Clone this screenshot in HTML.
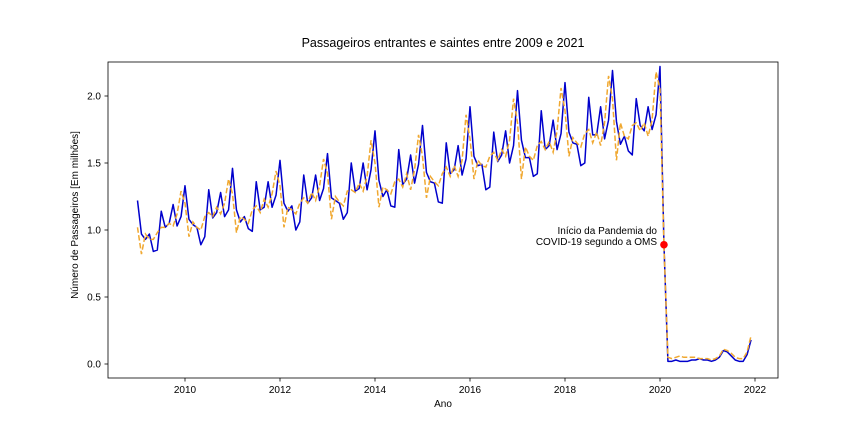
<!DOCTYPE html>
<html><head><meta charset="utf-8"><style>
body{margin:0;background:#fff}
svg text{font-family:"Liberation Sans","DejaVu Sans",sans-serif;fill:#000}
</style></head><body>
<svg id="chart" width="864" height="432">
<rect x="0" y="0" width="864" height="432" fill="#fff"/>
<text x="443" y="47" font-size="12.5" text-anchor="middle">Passageiros entrantes e saintes entre 2009 e 2021</text>
<text x="443" y="407" font-size="10" text-anchor="middle">Ano</text>
<text transform="translate(78,215) rotate(-90)" font-size="10" text-anchor="middle">Número de Passageiros [Em milhões]</text>
<g id="ticks"></g>
<g id="series"></g>
<rect x="108" y="62" width="670" height="316" fill="none" stroke="#000" stroke-width="0.8"/>
<text x="657" y="234" font-size="10" text-anchor="end">Início da Pandemia do</text>
<text x="657" y="245" font-size="10" text-anchor="end">COVID-19 segundo a OMS</text>
</svg>
<script>
const yTicks=[0.0,0.5,1.0,1.5,2.0];
const xTicks=[2010,2012,2014,2016,2018,2020,2022];
const startYear=2009;
const entrantes=[
1.22,0.97,0.93,0.97,0.84,0.85,1.14,1.02,1.05,1.19,1.03,1.10,
1.33,1.08,1.04,1.02,0.89,0.95,1.30,1.09,1.13,1.28,1.10,1.15,
1.46,1.15,1.06,1.10,1.01,0.99,1.36,1.15,1.17,1.36,1.17,1.26,
1.52,1.20,1.14,1.18,1.00,1.06,1.41,1.20,1.24,1.41,1.22,1.31,
1.57,1.24,1.22,1.20,1.08,1.13,1.50,1.29,1.31,1.50,1.30,1.45,
1.74,1.37,1.25,1.30,1.18,1.17,1.60,1.34,1.38,1.56,1.35,1.49,
1.78,1.43,1.36,1.35,1.21,1.20,1.65,1.42,1.45,1.63,1.41,1.53,
1.92,1.55,1.48,1.49,1.30,1.32,1.73,1.51,1.56,1.74,1.50,1.63,
2.04,1.67,1.54,1.54,1.40,1.42,1.89,1.60,1.63,1.82,1.60,1.72,
2.10,1.73,1.65,1.64,1.48,1.50,1.99,1.71,1.71,1.92,1.68,1.82,
2.19,1.81,1.64,1.70,1.59,1.56,1.98,1.78,1.74,1.92,1.75,1.86,
2.22,0.89,0.02,0.02,0.03,0.02,0.02,0.02,0.03,0.03,0.04,0.03,
0.03,0.02,0.03,0.05,0.10,0.09,0.06,0.03,0.02,0.02,0.07,0.18];
const saintes=[
1.02,0.82,0.97,0.93,0.93,0.98,1.02,1.02,1.05,1.03,1.12,1.29,
1.20,0.95,1.06,1.02,1.00,1.10,1.13,1.10,1.17,1.12,1.20,1.38,
1.27,0.98,1.10,1.08,1.05,1.15,1.18,1.13,1.23,1.17,1.27,1.44,
1.33,1.02,1.17,1.15,1.12,1.20,1.24,1.20,1.28,1.22,1.33,1.53,
1.42,1.08,1.25,1.21,1.18,1.29,1.30,1.28,1.35,1.29,1.40,1.67,
1.50,1.17,1.32,1.30,1.27,1.36,1.38,1.32,1.42,1.30,1.45,1.71,
1.55,1.24,1.40,1.36,1.33,1.42,1.47,1.40,1.48,1.40,1.52,1.86,
1.68,1.38,1.52,1.48,1.47,1.55,1.58,1.52,1.60,1.55,1.67,1.98,
1.80,1.38,1.62,1.55,1.52,1.63,1.66,1.60,1.66,1.58,1.74,2.06,
1.89,1.55,1.69,1.65,1.62,1.72,1.75,1.65,1.73,1.63,1.80,2.15,
1.98,1.52,1.80,1.70,1.68,1.78,1.80,1.74,1.80,1.70,1.82,2.18,
2.05,0.88,0.05,0.04,0.05,0.06,0.05,0.05,0.05,0.05,0.04,0.04,
0.04,0.03,0.04,0.06,0.11,0.10,0.08,0.05,0.04,0.04,0.09,0.21];
const markerIndex=133;
const NS="http://www.w3.org/2000/svg";
const xs=t=>137.5+(t-2009)*47.5;
const ys=v=>364-v*134;
const tx=i=>xs(startYear+i/12);
const tg=document.getElementById('ticks');
function mk(tag,attrs,parent){const e=document.createElementNS(NS,tag);for(const k in attrs)e.setAttribute(k,attrs[k]);parent.appendChild(e);return e;}
yTicks.forEach(v=>{
 const l=mk('line',{x1:104.5,x2:108,y1:ys(v),y2:ys(v),stroke:'#000','stroke-width':0.8},tg);
 
 
 const t=mk('text',{x:101,y:ys(v)+3.5,'font-size':10,'text-anchor':'end'},tg);
 t.textContent=v.toFixed(1);
 
 
});
xTicks.forEach(v=>{
 const l=mk('line',{x1:xs(v),x2:xs(v),y1:378,y2:381.5,stroke:'#000','stroke-width':0.8},tg);
 
 
 const t=mk('text',{x:xs(v),y:393,'font-size':10,'text-anchor':'middle'},tg);
 t.textContent=v;
 
 
});
const sg=document.getElementById('series');
const pb=mk('polyline',{points:entrantes.map((v,i)=>tx(i)+','+ys(v)).join(' '),fill:'none',stroke:'#0000cc','stroke-width':1.5,'stroke-linejoin':'round'},sg);


const po=mk('polyline',{points:saintes.map((v,i)=>tx(i)+','+ys(v)).join(' '),fill:'none',stroke:'#f0a830','stroke-width':1.5,'stroke-dasharray':'5.5,2.4'},sg);


const dot=mk('circle',{cx:tx(markerIndex),cy:ys(entrantes[markerIndex]),r:3.8,fill:'#ff0000'},sg);


</script>
</body></html>
